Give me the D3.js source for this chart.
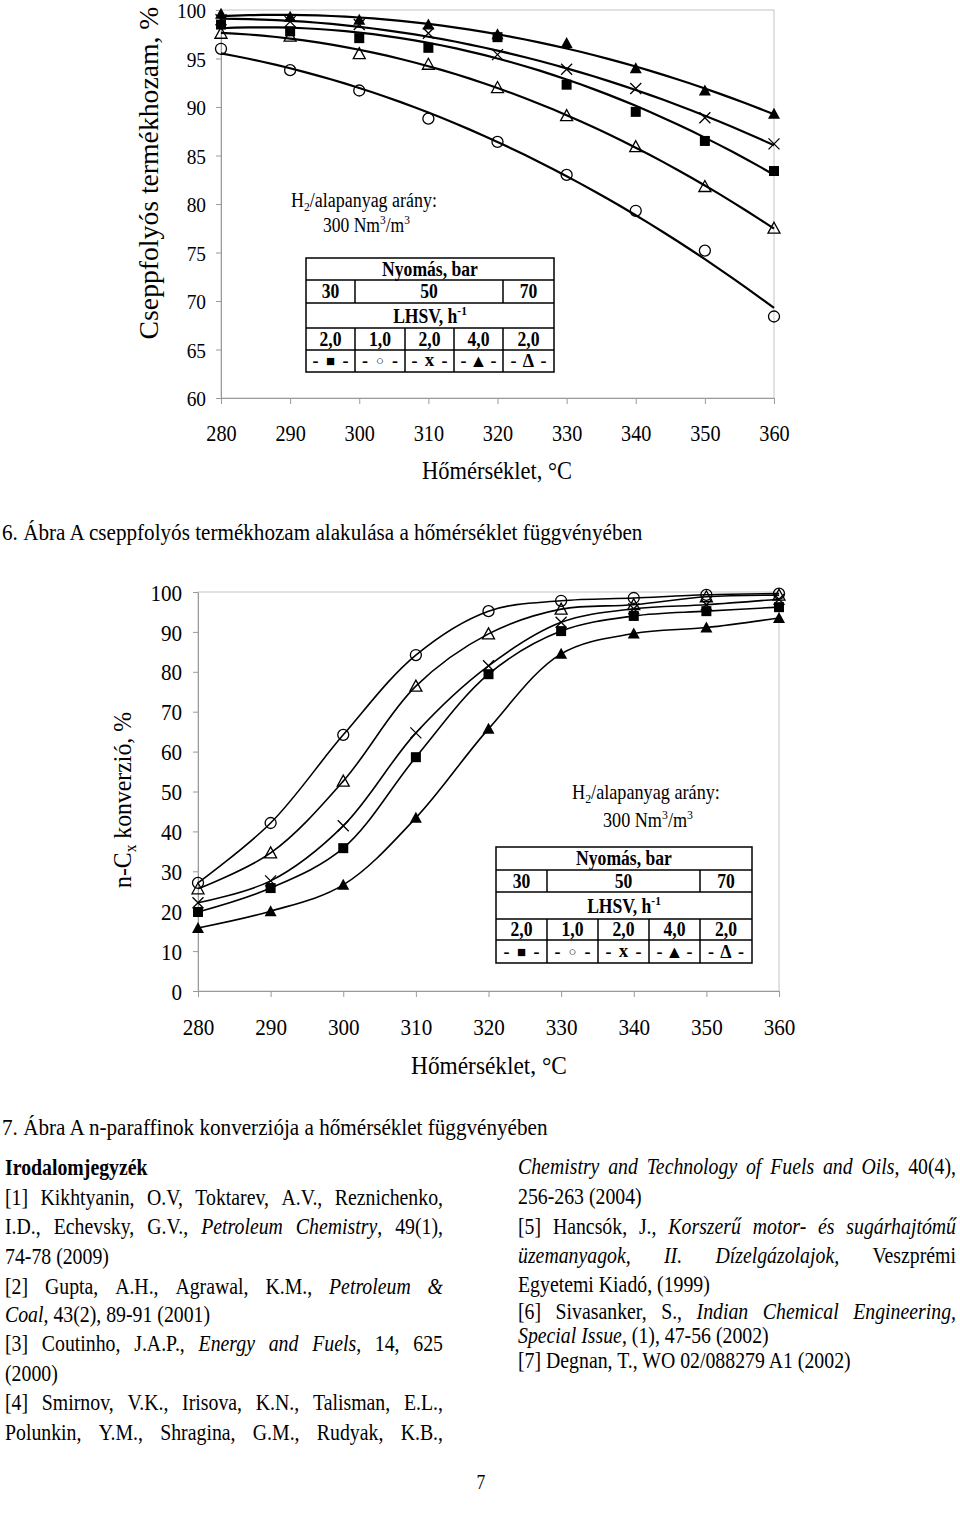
<!DOCTYPE html>
<html><head><meta charset="utf-8">
<script src="https://cdn.jsdelivr.net/npm/d3@7"></script>
<style>body{margin:0;background:#fff} svg{display:block}</style>
</head><body><svg id="c" width="960" height="1516"></svg>
<script>
// ---------- DATA ----------
const temps = [280, 290, 300, 310, 320, 330, 340, 350, 360];
// Chart 6: liquid product yield, %
const yieldSq   = [98.5, 97.8, 97.1, 96.1, 97.2, 92.3, 89.5, 86.5, 83.4]; // 30 bar, LHSV 2,0
const yieldCirc = [96.0, 93.8, 91.7, 88.8, 86.4, 83.0, 79.3, 75.2, 68.4]; // 50 bar, LHSV 1,0
const yieldX    = [99.0, 98.8, 98.5, 97.6, 95.4, 93.9, 91.9, 88.9, 86.2]; // 50 bar, LHSV 2,0
const yieldTri  = [99.6, 99.3, 99.0, 98.5, 97.5, 96.6, 94.0, 91.7, 89.3]; // 50 bar, LHSV 4,0
const yieldOTri = [97.6, 97.3, 95.5, 94.4, 92.0, 89.1, 85.9, 81.8, 77.5]; // 70 bar, LHSV 2,0
// Chart 7: n-Cx conversion, %
const convSq   = [19.8, 25.8, 35.8, 58.6, 79.4, 90.2, 94.0, 95.2, 96.2];
const convCirc = [27.1, 42.1, 64.2, 84.2, 95.2, 97.8, 98.5, 99.3, 99.6];
const convX    = [22.1, 27.6, 41.4, 64.7, 81.5, 92.4, 95.8, 96.8, 98.2];
const convTri  = [15.8, 20.0, 26.6, 43.4, 65.7, 84.5, 89.6, 91.1, 93.5];
const convOTri = [25.6, 34.6, 52.6, 76.4, 89.5, 95.7, 96.8, 98.8, 99.2];
const yTicks1 = [60, 65, 70, 75, 80, 85, 90, 95, 100];
const yTicks2 = [0, 10, 20, 30, 40, 50, 60, 70, 80, 90, 100];
const pressures = ["30", "50", "70"];
const lhsvVals = ["2,0", "1,0", "2,0", "4,0", "2,0"];
const legendSymbols = ["■", "○", "x", "▲", "Δ"];
const markerTypes = ["sq", "circ", "x", "tri", "otri"];

const refLeft = [
  {y: 1168, segs: [["Irodalomjegyzék", {b: true}]]},
  {y: 1198, j: true, segs: [["[1] Kikhtyanin, O.V, Toktarev, A.V., Reznichenko,", {}]]},
  {y: 1227, j: true, segs: [["I.D., Echevsky, G.V., ", {}], ["Petroleum Chemistry", {i: true}], [", 49(1),", {}]]},
  {y: 1257, segs: [["74-78 (2009)", {}]]},
  {y: 1287, j: true, segs: [["[2] Gupta, A.H., Agrawal, K.M., ", {}], ["Petroleum &", {i: true}]]},
  {y: 1315, segs: [["Coal", {i: true}], [", 43(2), 89-91 (2001)", {}]]},
  {y: 1344, j: true, segs: [["[3] Coutinho, J.A.P., ", {}], ["Energy and Fuels", {i: true}], [", 14, 625", {}]]},
  {y: 1374, segs: [["(2000)", {}]]},
  {y: 1403, j: true, segs: [["[4] Smirnov, V.K., Irisova, K.N., Talisman, E.L.,", {}]]},
  {y: 1433, j: true, segs: [["Polunkin, Y.M., Shragina, G.M., Rudyak, K.B.,", {}]]}
];
const refRight = [
  {y: 1167, j: true, segs: [["Chemistry and Technology of Fuels and Oils", {i: true}], [", 40(4),", {}]]},
  {y: 1197, segs: [["256-263 (2004)", {}]]},
  {y: 1227, j: true, segs: [["[5] Hancsók, J., ", {}], ["Korszerű motor- és sugárhajtómű", {i: true}]]},
  {y: 1256, j: true, segs: [["üzemanyagok, II. Dízelgázolajok,", {i: true}], [" Veszprémi", {}]]},
  {y: 1285, segs: [["Egyetemi Kiadó, (1999)", {}]]},
  {y: 1312, j: true, segs: [["[6] Sivasanker, S., ", {}], ["Indian Chemical Engineering,", {i: true}]]},
  {y: 1336, segs: [["Special Issue", {i: true}], [", (1), 47-56 (2002)", {}]]},
  {y: 1361, segs: [["[7] Degnan, T., WO 02/088279 A1 (2002)", {}]]}
];

// ---------- HELPERS ----------
const SERIF = "'Liberation Serif','Times New Roman',serif";
const SX = 0.88;
const svg = d3.select("#c");
svg.append("rect").attr("width", 960).attr("height", 1516).attr("fill", "#fff");

function addParts(t, parts, size) {
  let pend = 0;
  parts.forEach(([str, st]) => {
    const ts = t.append("tspan").text(str);
    let dy = pend; pend = 0;
    if (st.i) ts.attr("font-style", "italic");
    if (st.b) ts.attr("font-weight", "bold");
    if (st.sub) { ts.attr("font-size", size * 0.65); dy += size * 0.22; pend = -size * 0.22; }
    if (st.sup) { ts.attr("font-size", size * 0.65); dy += -size * 0.4; pend = size * 0.4; }
    if (dy) ts.attr("dy", dy);
  });
}
function stext(parent, x, y, parts, o = {}) {
  const size = o.size || 20, anchor = o.anchor || "start";
  const g = parent.append("g");
  const t = g.append("text").attr("font-family", SERIF).attr("font-size", size)
    .attr("text-anchor", anchor).attr("y", size * 0.34).attr("fill", "#000");
  if (o.weight) t.attr("font-weight", o.weight);
  if (typeof parts === "string") parts = [[parts, {}]];
  addParts(t, parts, size);
  const w = t.node().getComputedTextLength();
  const s = o.width ? o.width / w : (o.sx || SX);
  g.attr("transform", `translate(${x},${y})` + (o.rotate ? ` rotate(${o.rotate})` : "") + ` scale(${s},1)`);
  return g;
}
function drawMarker(g, type, cx, cy, k = 1) {
  const sw = 1.3;
  if (type === "sq") {
    const s = 10 * k;
    g.append("rect").attr("x", cx - s / 2).attr("y", cy - s / 2).attr("width", s).attr("height", s).attr("fill", "#000");
  } else if (type === "circ") {
    g.append("circle").attr("cx", cx).attr("cy", cy).attr("r", 5.5 * k).attr("fill", "none").attr("stroke", "#000").attr("stroke-width", sw);
  } else if (type === "x") {
    const s = 5.5 * k;
    g.append("path").attr("d", `M${cx - s},${cy - s}L${cx + s},${cy + s}M${cx - s},${cy + s}L${cx + s},${cy - s}`)
      .attr("stroke", "#000").attr("stroke-width", sw);
  } else if (type === "tri" || type === "otri") {
    const w = 6 * k, h = 11 * k;
    const p = g.append("path").attr("d", `M${cx},${cy - h * 0.55}L${cx + w},${cy + h * 0.45}L${cx - w},${cy + h * 0.45}Z`);
    if (type === "tri") p.attr("fill", "#000");
    else p.attr("fill", "none").attr("stroke", "#000").attr("stroke-width", sw);
  }
}
function quadFit(xs, ys) {
  const t = xs.map(x => (x - 320) / 10);
  const S = [0, 0, 0, 0, 0], T = [0, 0, 0];
  t.forEach((ti, i) => {
    for (let k = 0; k < 5; k++) S[k] += Math.pow(ti, k);
    for (let k = 0; k < 3; k++) T[k] += ys[i] * Math.pow(ti, k);
  });
  const M = [[S[0], S[1], S[2], T[0]], [S[1], S[2], S[3], T[1]], [S[2], S[3], S[4], T[2]]];
  for (let i = 0; i < 3; i++) {
    for (let r = i + 1; r < 3; r++) {
      const f = M[r][i] / M[i][i];
      for (let c = i; c < 4; c++) M[r][c] -= f * M[i][c];
    }
  }
  const c = [0, 0, 0];
  for (let i = 2; i >= 0; i--) {
    let s = M[i][3];
    for (let j = i + 1; j < 3; j++) s -= M[i][j] * c[j];
    c[i] = s / M[i][i];
  }
  return x => { const u = (x - 320) / 10; return c[0] + c[1] * u + c[2] * u * u; };
}
function styleAxis(g, size, sx) {
  g.select(".domain").attr("stroke", "#9a9a9a");
  g.selectAll(".tick line").attr("stroke", "#9a9a9a");
  g.selectAll(".tick text").attr("font-family", SERIF).attr("font-size", size).attr("fill", "#000")
    .attr("transform", `scale(${sx},1)`);
  g.attr("font-family", null);
}
function drawTable(g, xs, ys) {
  const ln = (x1, y1, x2, y2) => g.append("line").attr("x1", x1).attr("y1", y1).attr("x2", x2).attr("y2", y2)
    .attr("stroke", "#000").attr("stroke-width", 1.5);
  g.append("rect").attr("x", xs[0]).attr("y", ys[0]).attr("width", xs[5] - xs[0]).attr("height", ys[5] - ys[0])
    .attr("fill", "#fff").attr("stroke", "#000").attr("stroke-width", 1.5);
  for (let i = 1; i <= 4; i++) ln(xs[0], ys[i], xs[5], ys[i]);
  ln(xs[1], ys[1], xs[1], ys[2]); ln(xs[4], ys[1], xs[4], ys[2]);
  for (let i = 1; i <= 4; i++) ln(xs[i], ys[3], xs[i], ys[5]);
  const mid = (a, b) => (a + b) / 2;
  const F = 20;
  stext(g, mid(xs[0], xs[5]), mid(ys[0], ys[1]), "Nyomás, bar", {size: F, anchor: "middle", weight: "bold"});
  const pc = [mid(xs[0], xs[1]), mid(xs[1], xs[4]), mid(xs[4], xs[5])];
  pressures.forEach((p, i) => stext(g, pc[i], mid(ys[1], ys[2]), p, {size: F, anchor: "middle", weight: "bold"}));
  stext(g, mid(xs[0], xs[5]), mid(ys[2], ys[3]) + 1, [["LHSV, h", {}], ["-1", {sup: true}]], {size: F, anchor: "middle", weight: "bold"});
  lhsvVals.forEach((v, i) => stext(g, mid(xs[i], xs[i + 1]), mid(ys[3], ys[4]), v, {size: F, anchor: "middle", weight: "bold"}));
  legendSymbols.forEach((s, i) => {
    const cx = mid(xs[i], xs[i + 1]), cy = mid(ys[4], ys[5]);
    stext(g, cx - 15, cy, "-", {size: 18, anchor: "middle", weight: "bold", sx: 1});
    stext(g, cx + 15, cy, "-", {size: 18, anchor: "middle", weight: "bold", sx: 1});
    const sz = (s === "○") ? 13 : (s === "■") ? 15 : (s === "x") ? 19 : 18;
    const dyc = (s === "x") ? -1 : 0;
    stext(g, cx, cy + dyc, s, {size: sz, anchor: "middle", weight: "bold", sx: 1});
  });
}

// ---------- CHART 6 ----------
const c1 = svg.append("g");
const x1 = d3.scaleLinear().domain([280, 360]).range([221, 774]);
const y1 = d3.scaleLinear().domain([60, 100]).range([398, 10]);
c1.append("rect").attr("x", x1(280)).attr("y", y1(100)).attr("width", x1(360) - x1(280)).attr("height", y1(60) - y1(100))
  .attr("fill", "none").attr("stroke", "#c4c4c4").attr("stroke-width", 1);
const ax1 = c1.append("g").attr("transform", `translate(0,${y1(60)})`)
  .call(d3.axisBottom(x1).tickValues(temps).tickSize(6).tickSizeOuter(0).tickPadding(21).tickFormat(d3.format("d")));
styleAxis(ax1, 23, SX);
const ay1 = c1.append("g").attr("transform", `translate(${x1(280)},0)`)
  .call(d3.axisLeft(y1).tickValues(yTicks1).tickSize(5).tickSizeOuter(0).tickPadding(12).tickFormat(d3.format("d")));
styleAxis(ay1, 22, SX);
ay1.selectAll(".tick text").attr("dy", "0.36em");

const series1 = [yieldSq, yieldCirc, yieldX, yieldTri, yieldOTri];
const line1 = d3.line().x(d => x1(d[0])).y(d => y1(d[1]));
const fine = d3.range(280, 360.001, 2);
series1.forEach(vals => {
  const f = quadFit(temps, vals);
  c1.append("path").attr("d", line1(fine.map(t => [t, f(t)]))).attr("fill", "none").attr("stroke", "#000").attr("stroke-width", 2.2);
});
series1.forEach((vals, si) => vals.forEach((v, i) => drawMarker(c1, markerTypes[si], x1(temps[i]), y1(v))));

stext(svg, 149, 173, "Cseppfolyós termékhozam, %", {size: 27, anchor: "middle", rotate: -90, width: 333});
stext(svg, 497, 470, "Hőmérséklet, °C", {size: 25, anchor: "middle", width: 150});
stext(svg, 291, 200, [["H", {}], ["2", {sub: true}], ["/alapanyag arány:", {}]], {size: 20, width: 146});
stext(svg, 323, 225, [["300 Nm", {}], ["3", {sup: true}], ["/m", {}], ["3", {sup: true}]], {size: 20, width: 87});
drawTable(svg.append("g"), [306, 355, 405, 454, 503, 554], [258, 280, 303, 328, 350, 372]);
stext(svg, 2, 532, "6. Ábra A cseppfolyós termékhozam alakulása a hőmérséklet függvényében", {size: 23, width: 641});

// ---------- CHART 7 ----------
const c2 = svg.append("g");
const x2 = d3.scaleLinear().domain([280, 360]).range([198, 779]);
const y2 = d3.scaleLinear().domain([0, 100]).range([991, 592]);
c2.append("rect").attr("x", x2(280)).attr("y", y2(100)).attr("width", x2(360) - x2(280)).attr("height", y2(0) - y2(100))
  .attr("fill", "none").attr("stroke", "#c4c4c4").attr("stroke-width", 1);
const ax2 = c2.append("g").attr("transform", `translate(0,${y2(0)})`)
  .call(d3.axisBottom(x2).tickValues(temps).tickSize(6).tickSizeOuter(0).tickPadding(21).tickFormat(d3.format("d")));
styleAxis(ax2, 24, SX);
const ay2 = c2.append("g").attr("transform", `translate(${x2(280)},0)`)
  .call(d3.axisLeft(y2).tickValues(yTicks2).tickSize(5).tickSizeOuter(0).tickPadding(13).tickFormat(d3.format("d")));
styleAxis(ay2, 24, SX);
ay2.selectAll(".tick text").attr("dy", "0.34em");

const series2 = [convSq, convCirc, convX, convTri, convOTri];
const line2 = d3.line().x((d, i) => x2(temps[i])).y(d => y2(d)).curve(d3.curveCatmullRom.alpha(0.5));
series2.forEach(vals => c2.append("path").attr("d", line2(vals)).attr("fill", "none").attr("stroke", "#000").attr("stroke-width", 1.6));
series2.forEach((vals, si) => vals.forEach((v, i) => drawMarker(c2, markerTypes[si], x2(temps[i]), y2(v))));

stext(svg, 122, 800, [["n-C", {}], ["x", {sub: true}], [" konverzió, %", {}]], {size: 25, anchor: "middle", rotate: -90, width: 176});
stext(svg, 489, 1065, "Hőmérséklet, °C", {size: 26, anchor: "middle", width: 156});
stext(svg, 572, 792, [["H", {}], ["2", {sub: true}], ["/alapanyag arány:", {}]], {size: 20, width: 148});
stext(svg, 603, 820, [["300 Nm", {}], ["3", {sup: true}], ["/m", {}], ["3", {sup: true}]], {size: 20, width: 90});
drawTable(svg.append("g"), [496, 547, 598, 649, 700, 752], [847, 870, 892, 919, 940, 963]);
stext(svg, 2, 1127, "7. Ábra A n-paraffinok konverziója a hőmérséklet függvényében", {size: 23, width: 546});

// ---------- REFERENCES ----------
const RF = 22.5;
function tokenize(segs) {
  const toks = []; let cur = [];
  segs.forEach(([str, st]) => {
    str.split(" ").forEach((p, i) => {
      if (i > 0) { if (cur.length) toks.push(cur); cur = []; }
      if (p !== "") cur.push([p, st]);
    });
  });
  if (cur.length) toks.push(cur);
  return toks;
}
function renderRef(line, x0, x1) {
  const yb = line.y + RF * 0.3;
  const g = svg.append("g").attr("transform", `translate(${x0},${yb}) scale(${SX},1)`);
  const mk = parts => {
    const t = g.append("text").attr("font-family", SERIF).attr("font-size", RF).attr("fill", "#000");
    addParts(t, parts, RF);
    return t;
  };
  if (!line.j) { mk(line.segs); return; }
  const toks = tokenize(line.segs);
  const els = toks.map(mk);
  const ws = els.map(e => e.node().getComputedTextLength());
  const W = (x1 - x0) / SX;
  const gap = (W - d3.sum(ws)) / (toks.length - 1);
  let pos = 0;
  els.forEach((e, i) => { e.attr("x", pos); pos += ws[i] + gap; });
}
refLeft.forEach(l => renderRef(l, 5, 443));
refRight.forEach(l => renderRef(l, 518, 956));
stext(svg, 481, 1482, "7", {size: 20, anchor: "middle"});
</script></body></html>
